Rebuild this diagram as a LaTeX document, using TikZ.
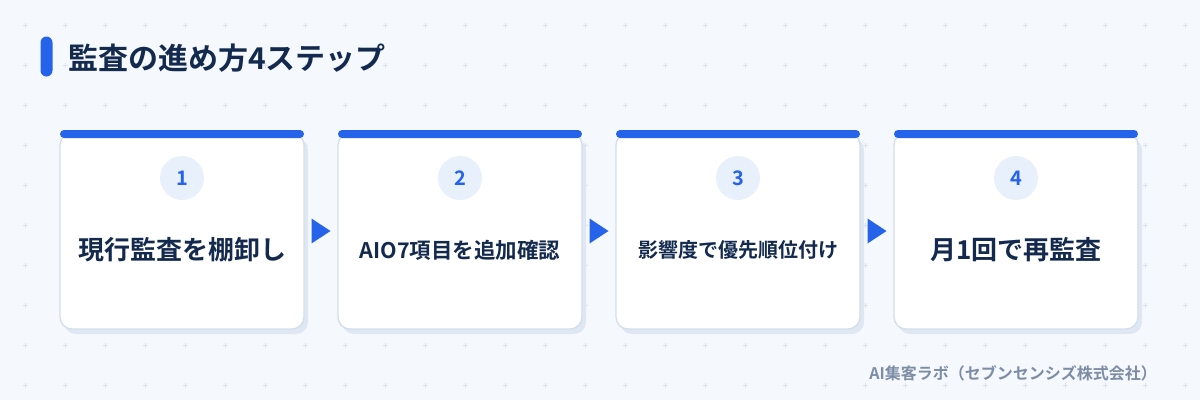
\documentclass[tikz,border=0pt]{standalone}
\usepackage{fontspec}
\setmainfont{Noto Sans CJK JP}[BoldFont={Noto Sans CJK JP Bold}]
\usetikzlibrary{calc}
\definecolor{bg}{HTML}{F5F8FD}
\definecolor{gridc}{HTML}{DCE3EE}
\definecolor{accent}{HTML}{2563EB}
\definecolor{ink}{HTML}{132A4E}
\definecolor{cardline}{HTML}{D3DEEC}
\definecolor{shadowc}{HTML}{DFE7F2}
\definecolor{numbg}{HTML}{E8F0FC}
\definecolor{foot}{HTML}{7D8DA6}
\tikzset{
  cardbox/.style={draw=cardline, line width=1.3pt, fill=white, rounded corners=12pt,
    minimum width=244pt, minimum height=196pt, inner sep=0pt},
  shadowbox/.style={fill=shadowc, rounded corners=12pt, minimum width=244pt, minimum height=196pt, inner sep=0pt},
  topbar/.style={fill=accent, rounded corners=4pt, minimum width=244pt, minimum height=8pt, inner sep=0pt},
  numdot/.style={circle, fill=numbg, minimum size=44pt, inner sep=0pt, text=accent,
    font=\fontsize{20}{24}\selectfont\bfseries},
  steptext/.style={text=ink, inner sep=0pt},
  arrowtri/.style={fill=accent},
}
\begin{document}
\begin{tikzpicture}[x=1pt,y=-1pt]
\fill[bg] (0,0) rectangle (1200,400);
\useasboundingbox (0,0) rectangle (1200,400);
% grid of plus marks
\foreach \i in {0,...,29}{
  \foreach \j in {0,...,9}{
    \draw[gridc, line width=0.8pt] ({25+40*\i-2.5},{25+40*\j}) -- ({25+40*\i+2.5},{25+40*\j})
      ({25+40*\i},{25+40*\j-2.5}) -- ({25+40*\i},{25+40*\j+2.5});
  }
}
% title
\node[fill=accent, rounded corners=6pt, minimum width=12pt, minimum height=40pt, inner sep=0pt] (tbar) at (46.5,56.5) {};
\node[anchor=west, text=ink, inner sep=0pt, font=\fontsize{30}{34}\selectfont\bfseries] (title) at (68,58) {監査の進め方4ステップ};
% cards
\foreach \n/\cx/\lab/\fs in {1/182/現行監査を棚卸し/26, 2/460/AIO7項目を追加確認/21.5, 3/738/影響度で優先順位付け/20, 4/1016/月1回で再監査/26}{
  \node[shadowbox] (s\n) at (\cx+4,236) {};
  \node[cardbox] (c\n) at (\cx,231) {};
  \node[topbar] (b\n) at (\cx,134) {};
  \node[numdot] (n\n) at (\cx,178) {\n};
  \node[steptext, font=\fontsize{\fs}{\fs}\selectfont\bfseries] (t\n) at (\cx,250) {\lab};
}
% arrows between cards
\foreach \a/\b in {1/2,2/3,3/4}{
  \coordinate (m\a) at ($(c\a.east)!0.5!(c\b.west)$);
  \fill[arrowtri] ($(m\a)+(-9.5,-12.5)$) -- ($(m\a)+(9.5,0)$) -- ($(m\a)+(-9.5,12.5)$) -- cycle;
}
% footer
\node[anchor=east, text=foot, inner sep=0pt, font=\fontsize{16}{19}\selectfont\bfseries] (footer) at (1157,373) {AI集客ラボ（セブンセンシズ株式会社）};
\end{tikzpicture}
\end{document}
